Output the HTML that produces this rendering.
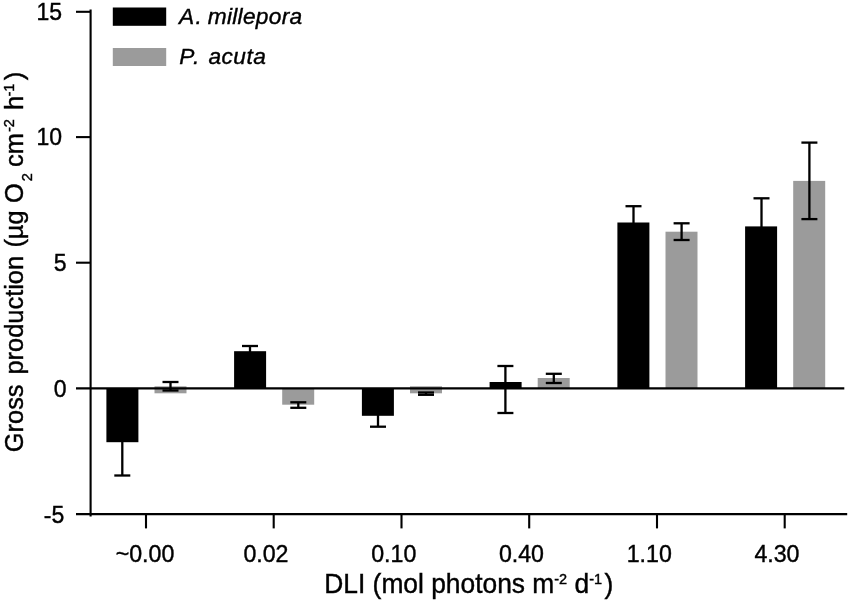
<!DOCTYPE html>
<html lang="en"><head><meta charset="utf-8"><title>Gross production vs DLI</title>
<style>html,body{margin:0;padding:0;background:#fff;}body{width:850px;height:601px;overflow:hidden;}svg{display:block;}text{font-family:"Liberation Sans",Arial,Helvetica,sans-serif;fill:#000;stroke:#000;stroke-width:0.4px;}</style></head><body>
<svg width="850" height="601" viewBox="0 0 850 601">
<rect x="0" y="0" width="850" height="601" fill="#fff"/>
<rect x="154.5" y="386.3" width="32" height="7.0" fill="#9b9b9b"/>
<rect x="106.4" y="388.3" width="32" height="53.9" fill="#000"/>
<rect x="282.2" y="388.3" width="32" height="16.4" fill="#9b9b9b"/>
<rect x="234.1" y="351.2" width="32" height="37.1" fill="#000"/>
<rect x="410.0" y="386.3" width="32" height="7.0" fill="#9b9b9b"/>
<rect x="361.9" y="388.3" width="32" height="27.5" fill="#000"/>
<rect x="537.7" y="378.0" width="32" height="10.3" fill="#9b9b9b"/>
<rect x="489.6" y="382.0" width="32" height="6.3" fill="#000"/>
<rect x="665.5" y="231.7" width="32" height="156.6" fill="#9b9b9b"/>
<rect x="617.4" y="222.5" width="32" height="165.8" fill="#000"/>
<rect x="793.2" y="180.9" width="32" height="207.4" fill="#9b9b9b"/>
<rect x="745.1" y="226.4" width="32" height="161.9" fill="#000"/>
<g stroke="#000" stroke-width="2.1" fill="none" stroke-linecap="butt">
<line x1="90.6" y1="9.4" x2="90.6" y2="516.6"/>
<line x1="76" y1="11.8" x2="90.8" y2="11.8"/>
<line x1="76" y1="137.1" x2="90.8" y2="137.1"/>
<line x1="76" y1="262.7" x2="90.8" y2="262.7"/>
<line x1="76" y1="388.35" x2="844.3" y2="388.35"/>
<line x1="76" y1="514.1" x2="847.2" y2="514.1"/>
<line x1="146.0" y1="514" x2="146.0" y2="528.4"/>
<line x1="273.7" y1="514" x2="273.7" y2="528.4"/>
<line x1="401.5" y1="514" x2="401.5" y2="528.4"/>
<line x1="529.2" y1="514" x2="529.2" y2="528.4"/>
<line x1="657.0" y1="514" x2="657.0" y2="528.4"/>
<line x1="784.7" y1="514" x2="784.7" y2="528.4"/>
</g>
<g stroke="#000" stroke-width="2.3" fill="none">
<line x1="122.3" y1="440.2" x2="122.3" y2="475.5"/>
<line x1="114.3" y1="475.5" x2="130.3" y2="475.5"/>
<line x1="250.0" y1="346.0" x2="250.0" y2="353.2"/>
<line x1="242.0" y1="346.0" x2="258.0" y2="346.0"/>
<line x1="378.0" y1="413.8" x2="378.0" y2="426.7"/>
<line x1="370.0" y1="426.7" x2="386.0" y2="426.7"/>
<line x1="505.4" y1="366.0" x2="505.4" y2="413.0"/>
<line x1="497.4" y1="366.0" x2="513.4" y2="366.0"/>
<line x1="497.4" y1="413.0" x2="513.4" y2="413.0"/>
<line x1="633.5" y1="206.2" x2="633.5" y2="224.5"/>
<line x1="625.5" y1="206.2" x2="641.5" y2="206.2"/>
<line x1="761.5" y1="198.3" x2="761.5" y2="228.4"/>
<line x1="753.5" y1="198.3" x2="769.5" y2="198.3"/>
<line x1="170.5" y1="382.0" x2="170.5" y2="390.5"/>
<line x1="162.5" y1="382.0" x2="178.5" y2="382.0"/>
<line x1="162.5" y1="390.5" x2="178.5" y2="390.5"/>
<line x1="298.3" y1="402.3" x2="298.3" y2="407.8"/>
<line x1="290.3" y1="402.3" x2="306.3" y2="402.3"/>
<line x1="290.3" y1="407.8" x2="306.3" y2="407.8"/>
<line x1="426.0" y1="392.5" x2="426.0" y2="394.8"/>
<line x1="418.0" y1="392.5" x2="434.0" y2="392.5"/>
<line x1="418.0" y1="394.8" x2="434.0" y2="394.8"/>
<line x1="553.8" y1="373.8" x2="553.8" y2="383.0"/>
<line x1="545.8" y1="373.8" x2="561.8" y2="373.8"/>
<line x1="545.8" y1="383.0" x2="561.8" y2="383.0"/>
<line x1="681.6" y1="223.3" x2="681.6" y2="240.0"/>
<line x1="673.6" y1="223.3" x2="689.6" y2="223.3"/>
<line x1="673.6" y1="240.0" x2="689.6" y2="240.0"/>
<line x1="809.4" y1="142.6" x2="809.4" y2="219.1"/>
<line x1="801.4" y1="142.6" x2="817.4" y2="142.6"/>
<line x1="801.4" y1="219.1" x2="817.4" y2="219.1"/>
</g>
<rect x="112.8" y="7.5" width="53.4" height="18.3" fill="#000"/>
<rect x="112.8" y="48" width="53.4" height="18" fill="#9b9b9b"/>
<text y="23.8" font-size="22.7" font-style="italic"><tspan x="179.1" letter-spacing="1.3">A.</tspan><tspan x="207.7" letter-spacing="0.3">millepora</tspan></text>
<text y="63.5" font-size="22.7" font-style="italic"><tspan x="179.2" letter-spacing="1.6">P.</tspan><tspan x="208.4" letter-spacing="0.5">acuta</tspan></text>
<text x="62.0" y="19.7" font-size="23" text-anchor="end">15</text>
<text x="62.0" y="145.3" font-size="23" text-anchor="end">10</text>
<text x="66.5" y="270.8" font-size="23" text-anchor="end">5</text>
<text x="66.6" y="396.9" font-size="23" text-anchor="end">0</text>
<text x="64.2" y="522.5" font-size="23" text-anchor="end">-5</text>
<text x="115.7" y="562.1" font-size="23.2">~0.00</text>
<text x="243.4" y="562.1" font-size="23.2">0.02</text>
<text x="371.2" y="562.1" font-size="23.2">0.10</text>
<text x="498.9" y="562.1" font-size="23.2">0.40</text>
<text x="626.7" y="562.1" font-size="23.2">1.10</text>
<text x="754.4" y="562.1" font-size="23.2">4.30</text>
<text transform="translate(468.8,592.9) scale(1,1.04)" font-size="26.37" text-anchor="middle">DLI (mol photons m<tspan font-size="14.5" dy="-8.8">-2</tspan><tspan dy="8.8"> d</tspan><tspan font-size="14.5" dy="-8.8">-1</tspan><tspan dy="8.8" dx="2.5">)</tspan></text>
<text transform="translate(23.4,0) rotate(-90) scale(1,1.04)" font-size="25.4"><tspan x="-452.2" y="0" font-size="25.4">Gross</tspan><tspan x="-374.5" y="0" font-size="25.4">production</tspan><tspan x="-247.6" y="0" font-size="25.4">(µg</tspan><tspan x="-203.0" y="0" font-size="25.4">O</tspan><tspan x="-181.3" y="8.2" font-size="14.5">2</tspan><tspan x="-167.0" y="0" font-size="25.4">cm</tspan><tspan x="-132.0" y="-8.8" font-size="14.5">-2</tspan><tspan x="-110.0" y="0" font-size="25.4">h</tspan><tspan x="-96.5" y="-8.8" font-size="14.5">-1</tspan><tspan x="-80.2" y="0" font-size="25.4">)</tspan></text>
</svg></body></html>
